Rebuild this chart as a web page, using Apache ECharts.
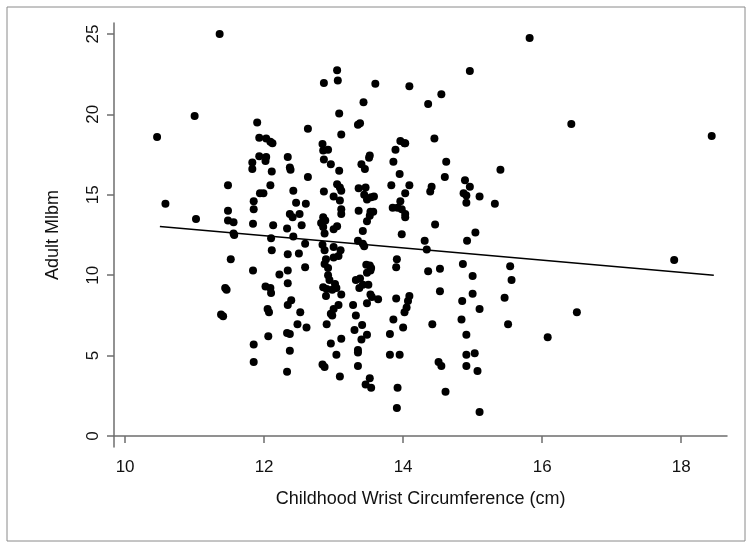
<!DOCTYPE html>
<html>
<head>
<meta charset="utf-8">
<script src="https://cdn.jsdelivr.net/npm/echarts@6/dist/echarts.min.js"></script>
<style>
  html, body { margin: 0; padding: 0; background: #fff; }
  #main { width: 750px; height: 546px; }
</style>
</head>
<body>
<div id="main"></div>
<script>
// data
var wristCm = [
  10.46, 10.58, 11.0, 11.02, 11.36, 11.38, 11.41, 11.44, 11.46, 11.48, 11.48, 11.48, 11.52, 11.56, 11.56, 11.57,
  11.83, 11.83, 11.85, 11.85, 11.84, 11.84, 11.85, 11.85, 11.90, 11.93, 11.93, 11.94, 11.99, 12.02, 12.03, 12.03,
  12.09, 12.12, 12.11, 12.09, 12.13, 12.10, 12.11, 12.02, 12.09, 12.10, 12.05, 12.07, 12.06, 12.22,
  12.34, 12.37, 12.38, 12.33, 12.34, 12.34, 12.34, 12.34, 12.39, 12.33, 12.37, 12.37, 12.33,
  12.42, 12.37, 12.41, 12.42, 12.46, 12.51, 12.54, 12.50, 12.52, 12.48, 12.60, 12.59, 12.59, 12.61, 12.63, 12.63,
  12.86, 12.84, 12.85, 12.92, 12.86, 12.96, 12.86, 12.85, 12.88, 12.82, 12.85, 12.87, 12.84, 12.87, 12.89, 12.87,
  12.92, 12.92, 12.94, 12.85, 12.90, 12.89, 12.96, 12.98, 12.90, 12.96, 12.84, 12.87,
  13.05, 13.06, 13.08, 13.11, 13.08, 13.05, 13.09, 13.11, 13.00, 13.09, 13.11, 13.11, 13.05, 13.00, 13.00, 13.10,
  13.07, 13.00, 13.02, 13.04, 12.98, 13.11, 13.07, 13.00, 13.11, 13.04, 13.09,
  13.28, 13.32, 13.30, 13.35, 13.35, 13.35, 13.35, 13.35, 13.38, 13.43, 13.36, 13.36, 13.40, 13.45, 13.46, 13.44,
  13.48, 13.42, 13.42, 13.44, 13.48, 13.52, 13.53, 13.52, 13.51, 13.54, 13.58, 13.57, 13.47, 13.52, 13.54, 13.53,
  13.48, 13.38, 13.32, 13.42, 13.50, 13.37, 13.53, 13.55, 13.48, 13.64, 13.41, 13.40, 13.48, 13.52, 13.46, 13.54,
  13.60, 13.83, 13.86, 13.89, 13.96, 14.02, 14.03, 13.95, 13.85, 13.92, 13.96, 13.98, 14.03, 14.03, 14.03, 14.09,
  14.09, 13.98, 13.91, 13.90, 13.90, 14.09, 14.07, 14.05, 14.02, 14.00, 13.86, 13.81, 13.81, 13.95, 13.92, 13.91,
  14.31, 14.34, 14.36, 14.36, 14.41, 14.39, 14.45, 14.46, 14.42, 14.55, 14.60, 14.62, 14.53, 14.53, 14.51, 14.55, 14.61,
  14.89, 14.87, 14.91, 14.91, 14.96, 14.96, 14.92, 15.04, 14.86, 15.00, 14.85, 15.00, 15.10, 14.84, 14.91, 14.91,
  15.03, 14.91, 15.07, 15.10, 15.10, 15.32, 15.40, 15.54, 15.56, 15.46, 15.51,
  15.82, 16.08, 16.42, 16.50, 17.90, 18.44
];
var adultMlbm = [
  18.6, 14.44, 19.9, 13.5, 25.0, 7.55, 7.45, 9.2, 9.1, 15.6, 14.0, 13.4, 11.0, 13.3, 12.6, 12.5,
  17.0, 16.6, 14.6, 14.1, 13.2, 10.3, 5.7, 4.6, 19.5, 18.55, 17.4, 15.1, 15.1, 17.1, 17.35, 18.5,
  18.3, 18.2, 16.45, 15.6, 13.1, 12.3, 11.55, 9.3, 9.2, 8.9, 7.9, 7.7, 6.2, 10.05,
  17.35, 16.7, 16.55, 12.9, 11.3, 10.3, 9.5, 8.15, 8.45, 6.4, 6.35, 5.3, 4.0,
  15.25, 13.8, 13.6, 12.4, 14.5, 13.8, 13.1, 11.35, 7.7, 6.95, 14.45, 11.95, 10.5, 6.75, 16.1, 19.1,
  21.95, 18.15, 17.75, 17.8, 17.2, 16.9, 15.2, 13.6, 13.4, 13.25, 13.0, 12.6, 11.9, 11.55, 11.0, 10.7,
  10.45, 10.0, 9.7, 9.25, 9.15, 8.7, 7.6, 7.5, 6.95, 5.75, 4.45, 4.3,
  22.75, 22.1, 20.05, 18.75, 16.5, 15.65, 15.45, 15.25, 14.9, 14.65, 14.1, 13.8, 13.05, 12.85, 11.75, 11.55,
  11.2, 11.1, 9.45, 9.2, 9.1, 8.8, 8.15, 7.9, 6.05, 5.05, 3.7,
  8.15, 7.5, 6.6, 5.35, 5.2, 4.35, 12.15, 19.35, 19.45, 20.75, 15.4, 14.0, 16.9, 16.6, 15.45, 15.0,
  14.7, 12.75, 11.95, 11.8, 13.35, 13.7, 13.95, 17.45, 17.3, 14.85, 14.9, 13.95, 10.65, 10.6, 10.45, 10.3,
  10.15, 9.8, 9.7, 9.4, 9.4, 9.2, 8.8, 8.65, 8.25, 8.5, 6.9, 6.0, 6.3, 3.6, 3.2, 3.0,
  21.9, 15.6, 17.05, 17.8, 18.35, 18.2, 18.2, 16.3, 14.2, 14.2, 14.6, 14.1, 13.8, 13.6, 15.1, 15.6,
  21.75, 12.55, 11.0, 10.5, 8.55, 8.7, 8.4, 8.0, 7.7, 6.75, 7.25, 6.35, 5.05, 5.05, 3.0, 1.75,
  12.15, 11.6, 10.25, 20.65, 15.5, 15.2, 18.5, 13.15, 6.95, 21.25, 16.1, 17.05, 10.4, 9.0, 4.6, 4.35, 2.75,
  15.9, 15.1, 14.95, 14.5, 15.5, 22.7, 12.15, 12.65, 10.7, 9.95, 8.4, 8.85, 7.9, 7.25, 6.3, 5.05,
  5.15, 4.35, 4.05, 1.5, 14.9, 14.45, 16.55, 10.55, 9.7, 8.6, 6.95,
  24.75, 6.15, 19.4, 7.7, 10.95, 18.65
];
// fitted line end points
var fitX = [10.5, 18.47];
var fitY = [13.03, 10.0];

var xTicks = [10, 12, 14, 16, 18];
var yTicks = [0, 5, 10, 15, 20, 25];

var points = wristCm.map(function (x, i) { return [x, adultMlbm[i]]; });
var fitLine = fitX.map(function (x, i) { return [x, fitY[i]]; });

var myChart = echarts.init(document.getElementById('main'));

var axisGrey = '#6e6e6e';
var fontFam = '"Liberation Sans", Arial, sans-serif';

option = {
  backgroundColor: '#fff',
  animation: false,
  graphic: [{
    type: 'rect',
    shape: { x: 7, y: 7, width: 738, height: 534 },
    style: { fill: 'none', stroke: '#8a8a8a', lineWidth: 1 }
  }],
  grid: { left: 114, right: 23, top: 23, bottom: 99 },
  xAxis: {
    type: 'value',
    min: 9.84,
    max: 18.66,
    name: 'Childhood Wrist Circumference (cm)',
    nameLocation: 'middle',
    nameGap: 43,
    nameTextStyle: { color: '#111', fontSize: 18, fontFamily: fontFam },
    axisLine: { show: true, lineStyle: { color: axisGrey, width: 1.5 } },
    axisTick: { show: true, length: 7, customValues: xTicks, lineStyle: { color: axisGrey, width: 1.5 } },
    axisLabel: { customValues: xTicks, margin: 12, color: '#111', fontSize: 17, fontFamily: fontFam },
    splitLine: { show: false }
  },
  yAxis: {
    type: 'value',
    min: -0.68,
    max: 25.68,
    name: 'Adult Mlbm',
    nameLocation: 'middle',
    nameGap: 52,
    nameTextStyle: { color: '#111', fontSize: 18, fontFamily: fontFam },
    axisLine: { show: true, lineStyle: { color: axisGrey, width: 1.5 } },
    axisTick: { show: true, length: 7, customValues: yTicks, lineStyle: { color: axisGrey, width: 1.5 } },
    axisLabel: { customValues: yTicks, rotate: 90, margin: 12, color: '#111', fontSize: 17, fontFamily: fontFam },
    splitLine: { show: false }
  },
  series: [
    {
      type: 'scatter',
      data: points,
      symbol: 'circle',
      symbolSize: 8,
      itemStyle: { color: '#000', opacity: 1 }
    },
    {
      type: 'line',
      data: fitLine,
      symbol: 'none',
      lineStyle: { color: '#000', width: 1.5 }
    }
  ]
};

myChart.setOption(option);
</script>
</body>
</html>
